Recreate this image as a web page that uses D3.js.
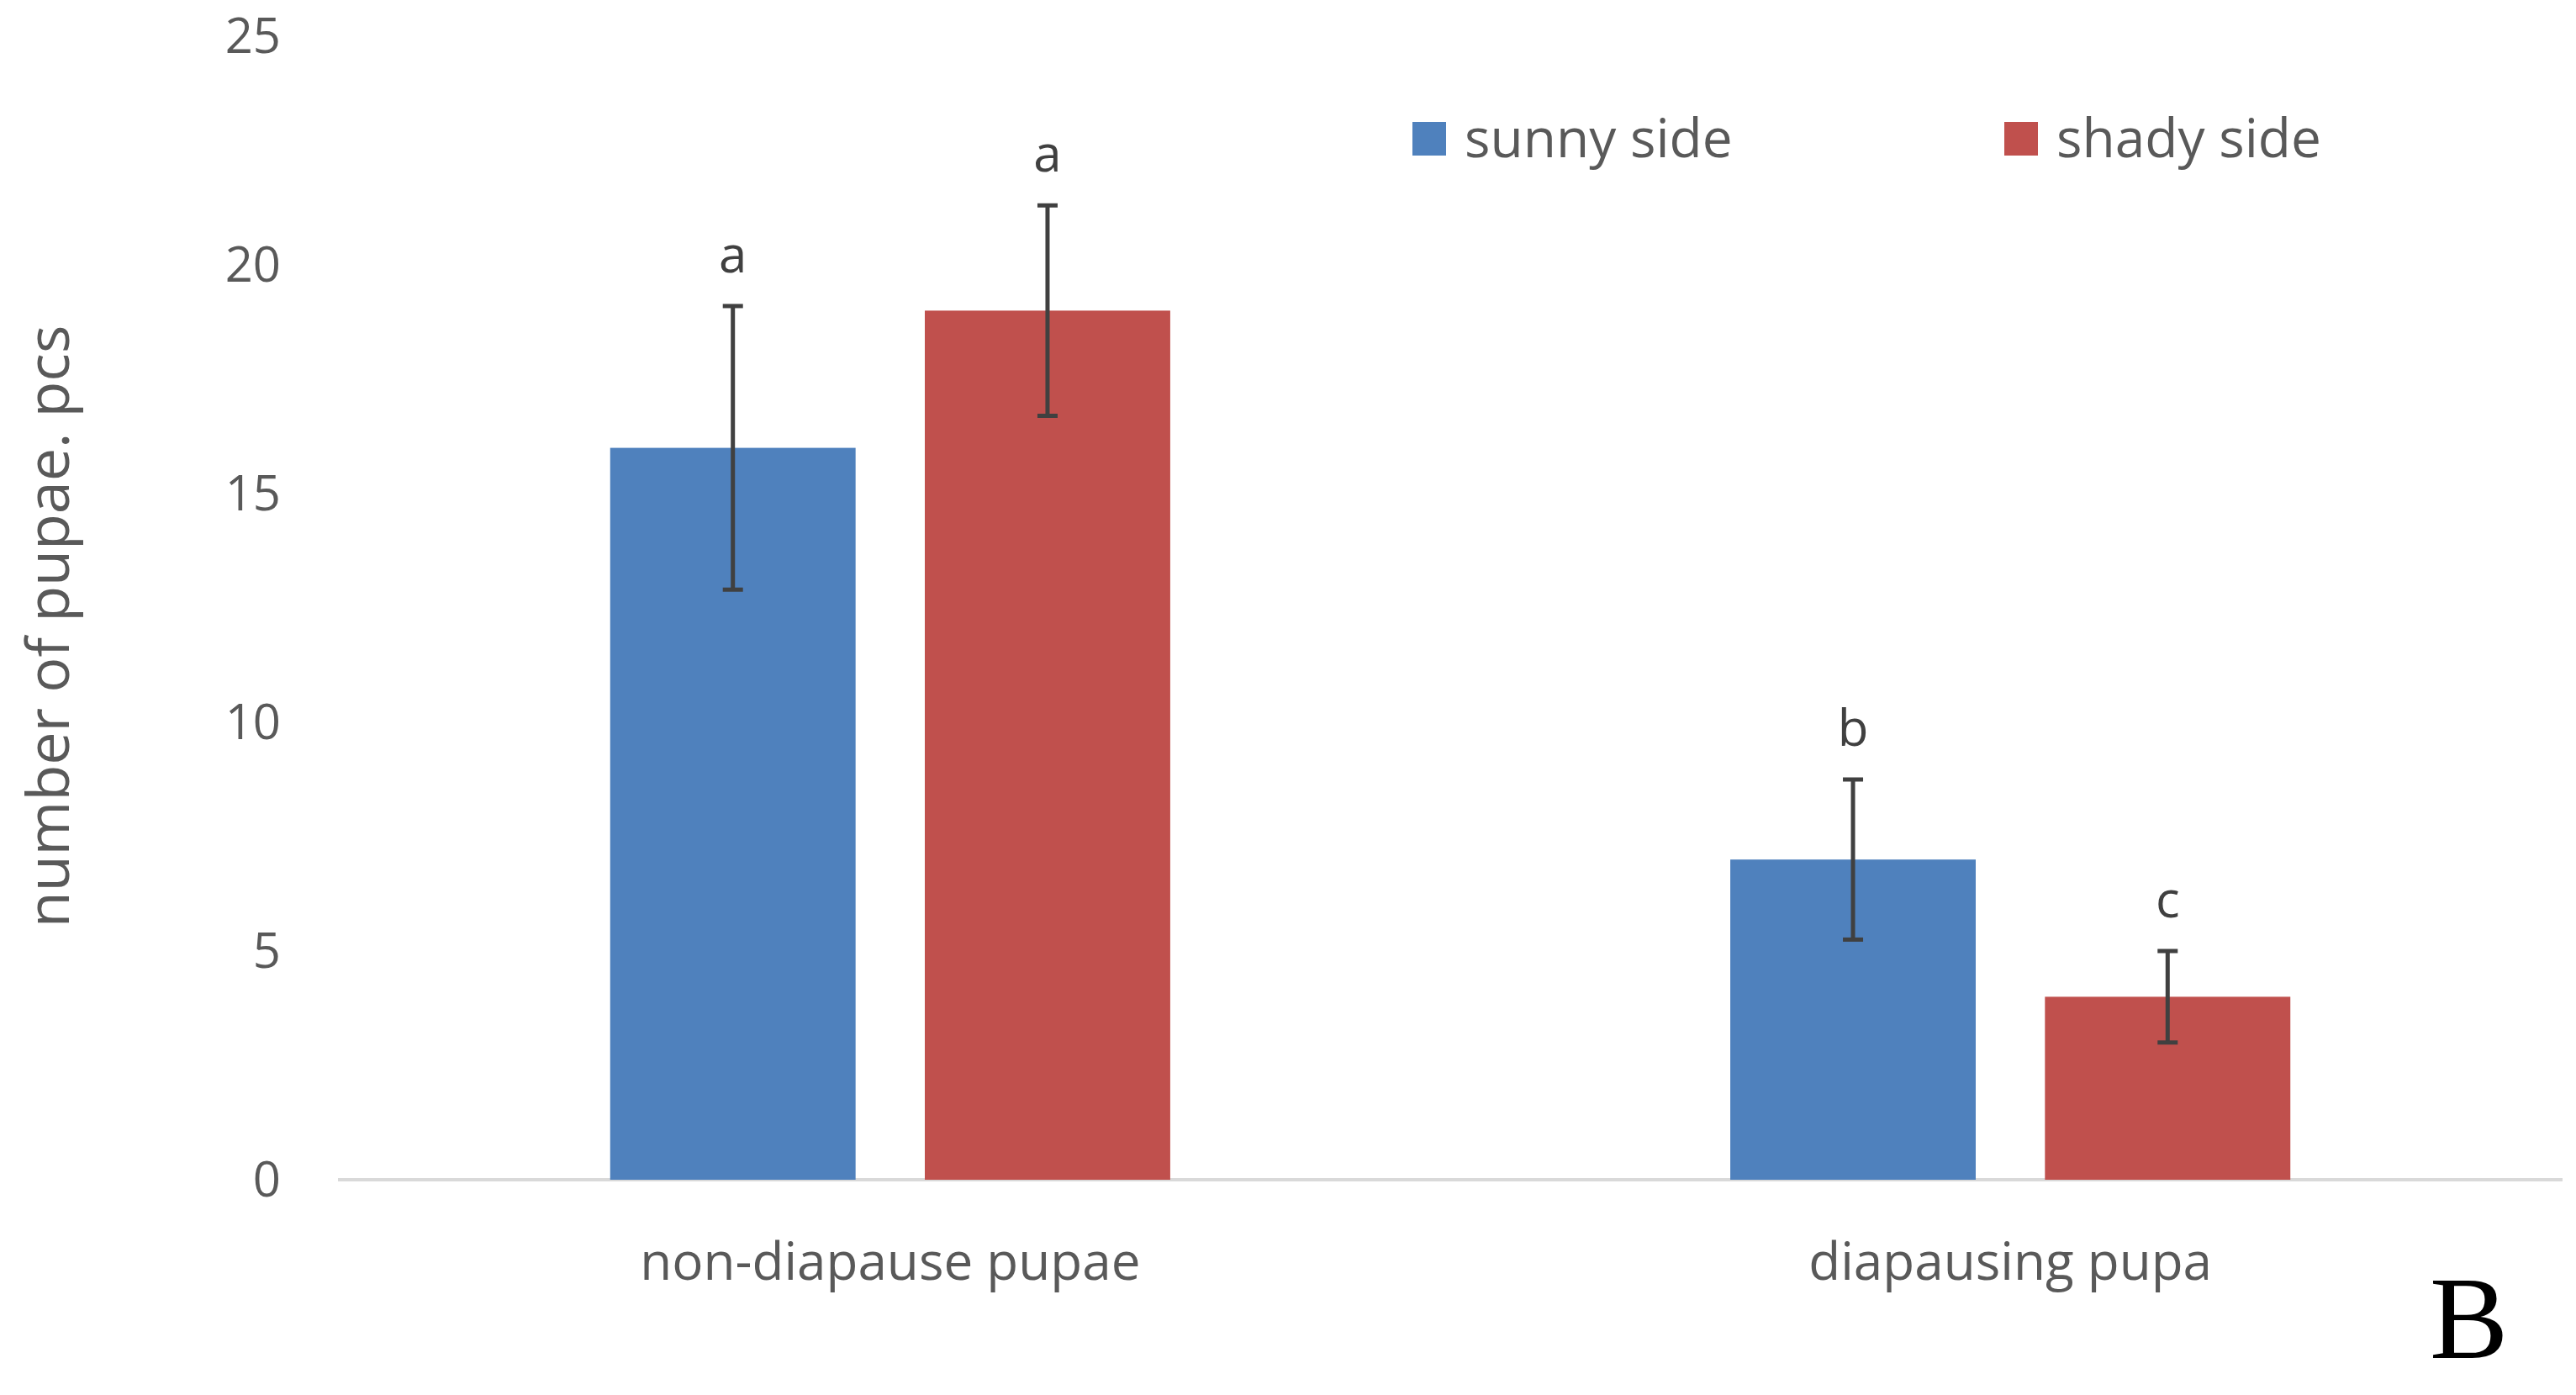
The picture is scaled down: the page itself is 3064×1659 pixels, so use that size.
<!DOCTYPE html>
<html><head><meta charset="utf-8">
<script src="https://cdn.jsdelivr.net/npm/d3@7"></script>
<style>body{margin:0;background:#fff}text{font-family:"Open Sans",sans-serif;fill:#595959}</style>
</head><body>
<script>
const categories = ['non-diapause pupae', 'diapausing pupa']
const seriesNames = ['sunny side', 'shady side']
const colors = ['#4f81bd', '#c0504d']
const sunny = [16, 7]
const shady = [19, 4]
const sunnyErr = [3.1, 1.75]
const shadyErr = [2.3, 1.0]
const sunnyLetters = ['a', 'b']
const shadyLetters = ['a', 'c']
const yTicks = [0, 5, 10, 15, 20, 25]

const W = 3064, H = 1659
const svg = d3.select('body').append('svg').attr('width', W).attr('height', H)

// plot area
const x0 = d3.scaleBand().domain(categories).range([402, 3048]).paddingInner(0.5).paddingOuter(0.243)
const x1 = d3.scaleBand().domain(seriesNames).range([0, x0.bandwidth()]).paddingInner(0.22)
const y = d3.scaleLinear().domain([0, 25]).range([1403, 43])

// y tick labels
svg.append('g').selectAll('text').data(yTicks).join('text')
    .attr('x', 334).attr('y', d => y(d)).attr('dy', '0.35em')
    .attr('text-anchor', 'end').style('font-size', '58px').text(d => d)

// baseline
svg.append('line').attr('x1', 402).attr('x2', 3048).attr('y1', y(0)).attr('y2', y(0))
    .attr('stroke', '#d9d9d9').attr('stroke-width', 4)

const data = []
categories.forEach((c, i) => {
    data.push({ c, s: seriesNames[0], v: sunny[i], e: sunnyErr[i], l: sunnyLetters[i], col: colors[0] })
    data.push({ c, s: seriesNames[1], v: shady[i], e: shadyErr[i], l: shadyLetters[i], col: colors[1] })
})

const g = svg.append('g')
g.selectAll('rect').data(data).join('rect')
    .attr('x', d => x0(d.c) + x1(d.s)).attr('width', x1.bandwidth())
    .attr('y', d => y(d.v)).attr('height', d => y(0) - y(d.v)).attr('fill', d => d.col)

// error bars
const cx = d => x0(d.c) + x1(d.s) + x1.bandwidth() / 2
const eb = g.selectAll('g.eb').data(data).join('g').attr('stroke', '#404040').attr('stroke-width', 5)
eb.append('line').attr('x1', cx).attr('x2', cx).attr('y1', d => y(d.v + d.e)).attr('y2', d => y(d.v - d.e))
eb.append('line').attr('x1', d => cx(d) - 12).attr('x2', d => cx(d) + 12).attr('y1', d => y(d.v + d.e)).attr('y2', d => y(d.v + d.e))
eb.append('line').attr('x1', d => cx(d) - 12).attr('x2', d => cx(d) + 12).attr('y1', d => y(d.v - d.e)).attr('y2', d => y(d.v - d.e))

// significance letters
g.selectAll('text.lt').data(data).join('text')
    .attr('x', cx).attr('y', d => y(d.v + d.e) - 40)
    .attr('text-anchor', 'middle').style('font-size', '60px').style('fill', '#404040').text(d => d.l)

// category labels
svg.append('g').selectAll('text').data(categories).join('text')
    .attr('x', d => x0(d) + x0.bandwidth() / 2).attr('y', 1522)
    .attr('text-anchor', 'middle').style('font-size', '62px').text(d => d)

// y axis title
svg.append('text').attr('transform', 'translate(82,745) rotate(-90)')
    .attr('text-anchor', 'middle').style('font-size', '70px').text('number of pupae. pcs')

// legend
const legX = [1680, 2384]
const leg = svg.append('g').selectAll('g').data(seriesNames).join('g')
    .attr('transform', (d, i) => `translate(${legX[i]},145)`)
leg.append('rect').attr('width', 40).attr('height', 40).attr('fill', (d, i) => colors[i])
leg.append('text').attr('x', 62).attr('y', 20).attr('dy', '0.35em').style('font-size', '64px').text(d => d)

// panel letter
svg.append('text').attr('x', 2890).attr('y', 1615)
    .style('font-family', '"Liberation Serif",serif').style('font-size', '140px').style('fill', '#000').text('B')
</script>
</body></html>
